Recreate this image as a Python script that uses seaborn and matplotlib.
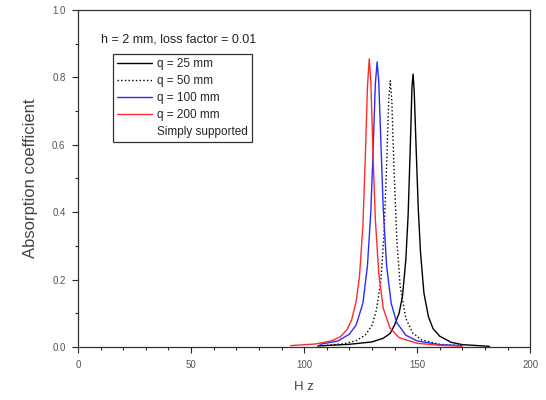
import pandas as pd
import matplotlib
matplotlib.use('Agg')
import matplotlib.pyplot as plt
from matplotlib.ticker import MultipleLocator
from matplotlib.lines import Line2D
import seaborn as sns

# values
hz_25 = [106, 120, 130, 135, 138, 140, 142, 143.5, 145, 146, 147, 147.7, 148.2,
         148.7, 149.5, 150.5, 151.5, 153, 155, 157, 160, 165, 170, 182]
abs_25 = [0.003, 0.008, 0.015, 0.026, 0.04, 0.065, 0.1, 0.15, 0.26, 0.39, 0.6,
          0.77, 0.81, 0.76, 0.6, 0.41, 0.28, 0.16, 0.09, 0.055, 0.032, 0.014, 0.007, 0.002]

hz_50 = [110, 118, 123, 127, 130, 132, 134, 135.3, 136.5, 137.4, 138.1, 138.8,
         139.7, 141, 142.5, 145, 148, 152, 160, 170]
abs_50 = [0.005, 0.01, 0.019, 0.035, 0.064, 0.11, 0.2, 0.33, 0.54, 0.73, 0.79,
          0.73, 0.54, 0.32, 0.18, 0.085, 0.042, 0.021, 0.008, 0.004]

hz_100 = [107, 115, 120, 123, 126, 128, 129.5, 130.5, 131.5, 132.3, 133, 134, 135,
          136.5, 138.5, 141, 145, 150, 160, 170]
abs_100 = [0.008, 0.018, 0.038, 0.065, 0.13, 0.24, 0.4, 0.58, 0.78, 0.846,
           0.79, 0.6, 0.41, 0.24, 0.13, 0.072, 0.035, 0.018, 0.007, 0.004]

hz_200 = [94, 105, 112, 116, 119, 121, 123, 124.5, 126, 127, 128, 128.8, 129.5,
          130.5, 131.5, 133, 135, 138, 142, 150, 160, 170]
abs_200 = [0.004, 0.009, 0.018, 0.03, 0.052, 0.08, 0.135, 0.21, 0.36, 0.55, 0.77,
           0.855, 0.79, 0.57, 0.38, 0.22, 0.115, 0.056, 0.028, 0.011, 0.005, 0.0025]

labels = ['q = 25 mm', 'q = 50 mm', 'q = 100 mm', 'q = 200 mm']
colors = ['black', 'black', '#2b2bff', '#ff2b2b']
styles = ['-', ':', '-', '-']

sns.set_style('ticks')
plt.rcParams['font.family'] = ['Liberation Sans', 'DejaVu Sans']

fig = plt.figure(figsize=(5.46, 4.0), dpi=100)
ax = fig.add_axes([0.143, 0.1325, 0.828, 0.8425])

series = [(hz_25, abs_25), (hz_50, abs_50), (hz_100, abs_100), (hz_200, abs_200)]
for (x, y), lab, c, ls in zip(series, labels, colors, styles):
    df = pd.DataFrame({'Hz': x, 'abs': y})
    sns.lineplot(data=df, x='Hz', y='abs', ax=ax, color=c, linestyle=ls,
                 linewidth=1.0, label=lab, legend=False)

ax.set_xlim(0, 200)
ax.set_ylim(0, 1.0)
ax.xaxis.set_major_locator(MultipleLocator(50))
ax.xaxis.set_minor_locator(MultipleLocator(10))
ax.yaxis.set_major_locator(MultipleLocator(0.2))
ax.yaxis.set_minor_locator(MultipleLocator(0.1))
ax.yaxis.set_major_formatter(plt.FuncFormatter(lambda v, p: f'{v:.1f}'))
ax.tick_params(which='major', direction='out', length=4, width=0.8,
               labelsize=7, labelcolor='#555555', pad=5)
ax.tick_params(which='minor', direction='out', length=2, width=0.8)
for s in ax.spines.values():
    s.set_linewidth(0.9)
    s.set_color('#333333')

ax.set_xlabel('H z', fontsize=9.5, color='#444444', labelpad=8)
ax.set_ylabel('Absorption coefficient', fontsize=12, color='#444444', labelpad=10)

ax.text(10, 0.905, 'h = 2 mm, loss factor = 0.01', fontsize=9, color='#222222')

handles = [Line2D([], [], color=c, linestyle=ls, linewidth=1.0)
           for c, ls in zip(colors, styles)]
handles.append(Line2D([], [], color='none'))
leg = ax.legend(handles, labels + ['Simply supported'], loc='upper left',
                bbox_to_anchor=(0.064, 0.888), fontsize=8.5, frameon=True,
                fancybox=False, edgecolor='black', handlelength=3.0,
                handletextpad=0.4, borderpad=0.35, labelspacing=0.42)
leg.get_frame().set_linewidth(0.9)

fig.savefig('out.png', dpi=100)
